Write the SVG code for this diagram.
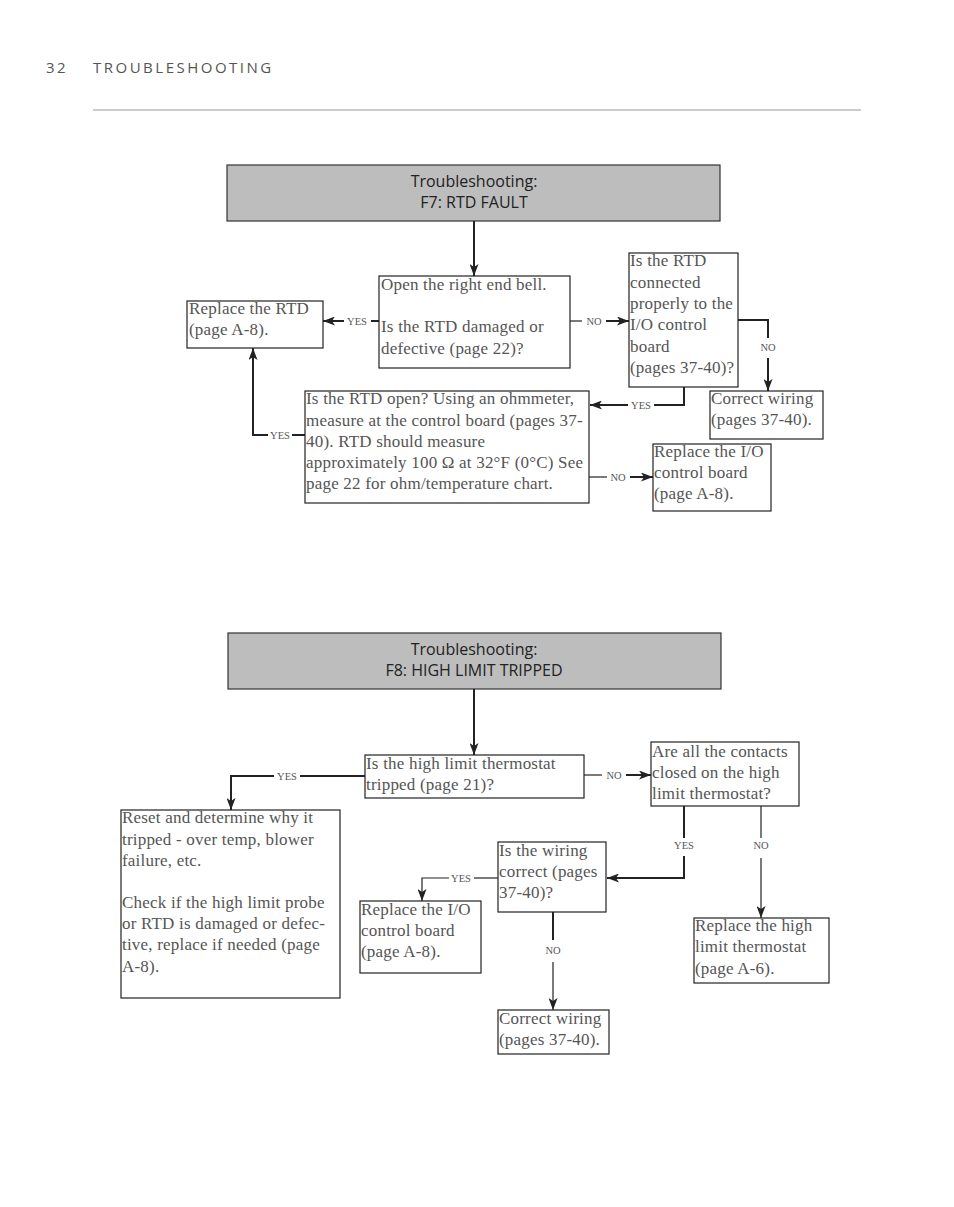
<svg xmlns="http://www.w3.org/2000/svg" width="954" height="1207" viewBox="0 0 954 1207">
<defs>
<style>
.box{fill:#fff;stroke:#222;stroke-width:1.2}
.hdr{fill:#bdbdbd;stroke:#333;stroke-width:1.2}
.t{font-family:"Liberation Serif",serif;font-size:17px;letter-spacing:0.2px;fill:#555}
.h{font-family:"Open Sans","Liberation Sans",sans-serif;font-size:16px;fill:#222;text-anchor:middle}
.lbl{font-family:"Liberation Serif",serif;font-size:10.5px;fill:#555;text-anchor:middle}
.c{fill:none;stroke:#222;stroke-width:2}
.c1{fill:none;stroke:#222;stroke-width:1.2}
</style>
<marker id="ar" markerUnits="userSpaceOnUse" markerWidth="13" markerHeight="9" refX="12" refY="4.5" orient="auto">
<path d="M0,0 L12,4.5 L0,9 L3,4.5 z" fill="#222"/>
</marker>
</defs>
<rect width="954" height="1207" fill="#fff"/>
<g id="page-header">
<text x="46" y="73" font-family="'Open Sans','Liberation Sans',sans-serif" font-size="15" fill="#555" letter-spacing="2.5">32</text>
<text x="93" y="73" font-family="'Open Sans','Liberation Sans',sans-serif" font-size="15" fill="#555" letter-spacing="2.5">TROUBLESHOOTING</text>
<line x1="93" y1="110" x2="861" y2="110" stroke="#999" stroke-width="1"/>
</g>
<g id="f7-header"><rect class="hdr" x="227" y="165" width="493" height="56"/><text class="h" x="474" y="187">Troubleshooting:</text><text class="h" x="474" y="208">F7: RTD FAULT</text></g>
<g id="f7-open"><rect class="box" x="379" y="276" width="191" height="92"/><text class="t" x="381" y="290">Open the right end bell.</text><text class="t" x="381" y="332">Is the RTD damaged or</text><text class="t" x="381" y="354">defective (page 22)?</text></g>
<g id="f7-replace-rtd"><rect class="box" x="187" y="301" width="136" height="47"/><text class="t" x="189" y="314">Replace the RTD</text><text class="t" x="189" y="335">(page A-8).</text></g>
<g id="f7-connected"><rect class="box" x="629" y="253" width="109" height="134"/><text class="t" x="630" y="266">Is the RTD</text><text class="t" x="630" y="288">connected</text><text class="t" x="630" y="309">properly to the</text><text class="t" x="630" y="330">I/O control</text><text class="t" x="630" y="352">board</text><text class="t" x="630" y="373">(pages 37-40)?</text></g>
<g id="f7-correct-wiring"><rect class="box" x="710" y="391" width="113" height="48"/><text class="t" x="711" y="404">Correct wiring</text><text class="t" x="711" y="425">(pages 37-40).</text></g>
<g id="f7-rtd-open"><rect class="box" x="305" y="391" width="284" height="112"/><text class="t" x="306" y="404">Is the RTD open? Using an ohmmeter,</text><text class="t" x="306" y="426">measure at the control board (pages 37-</text><text class="t" x="306" y="447">40). RTD should measure</text><text class="t" x="306" y="468">approximately 100 Ω at 32°F (0°C) See</text><text class="t" x="306" y="489">page 22 for ohm/temperature chart.</text></g>
<g id="f7-replace-io"><rect class="box" x="653" y="444" width="118" height="67"/><text class="t" x="654" y="457">Replace the I/O</text><text class="t" x="654" y="478">control board</text><text class="t" x="654" y="499">(page A-8).</text></g>
<g id="f8-header"><rect class="hdr" x="228" y="633" width="493" height="56"/><text class="h" x="474" y="655">Troubleshooting:</text><text class="h" x="474" y="676">F8: HIGH LIMIT TRIPPED</text></g>
<g id="f8-tripped"><rect class="box" x="365" y="755" width="219" height="43"/><text class="t" x="366" y="769">Is the high limit thermostat</text><text class="t" x="366" y="790">tripped (page 21)?</text></g>
<g id="f8-reset"><rect class="box" x="121" y="810" width="219" height="188"/><text class="t" x="122" y="823">Reset and determine why it</text><text class="t" x="122" y="845">tripped - over temp, blower</text><text class="t" x="122" y="866">failure, etc.</text><text class="t" x="122" y="908">Check if the high limit probe</text><text class="t" x="122" y="929">or RTD is damaged or defec-</text><text class="t" x="122" y="950">tive, replace if needed (page</text><text class="t" x="122" y="972">A-8).</text></g>
<g id="f8-contacts"><rect class="box" x="651" y="742" width="148" height="64"/><text class="t" x="652" y="757">Are all the contacts</text><text class="t" x="652" y="778">closed on the high</text><text class="t" x="652" y="799">limit thermostat?</text></g>
<g id="f8-wiring"><rect class="box" x="498" y="842" width="108" height="70"/><text class="t" x="499" y="856">Is the wiring</text><text class="t" x="499" y="877">correct (pages</text><text class="t" x="499" y="898">37-40)?</text></g>
<g id="f8-replace-io"><rect class="box" x="360" y="901" width="121" height="72"/><text class="t" x="361" y="915">Replace the I/O</text><text class="t" x="361" y="936">control board</text><text class="t" x="361" y="957">(page A-8).</text></g>
<g id="f8-replace-thermostat"><rect class="box" x="694" y="918" width="135" height="65"/><text class="t" x="695" y="931">Replace the high</text><text class="t" x="695" y="952">limit thermostat</text><text class="t" x="695" y="974">(page A-6).</text></g>
<g id="f8-correct-wiring"><rect class="box" x="498" y="1010" width="111" height="44"/><text class="t" x="499" y="1024">Correct wiring</text><text class="t" x="499" y="1045">(pages 37-40).</text></g>
<g id="connectors">
<path class="c" d="M474,221 V276" marker-end="url(#ar)"/>
<path class="c" d="M379,321 H371"/><text class="lbl" x="357" y="325">YES</text><path class="c" d="M344,321 H323" marker-end="url(#ar)"/>
<path class="c1" d="M570,321 H582"/><text class="lbl" x="594" y="325">NO</text><path class="c" d="M606,321 H629" marker-end="url(#ar)"/>
<path class="c" d="M738,320 H768 V338"/><text class="lbl" x="768" y="351">NO</text><path class="c" d="M768,358 V391" marker-end="url(#ar)"/>
<path class="c" d="M684,387 V405 H654"/><text class="lbl" x="641" y="409">YES</text><path class="c" d="M628,405 H590" marker-end="url(#ar)"/>
<path class="c" d="M305,435 H292"/><text class="lbl" x="280" y="439">YES</text><path class="c" d="M268,435 H253 V348" marker-end="url(#ar)"/>
<path class="c1" d="M589,477 H607"/><text class="lbl" x="618" y="481">NO</text><path class="c" d="M630,477 H653" marker-end="url(#ar)"/>
<path class="c" d="M474,689 V755" marker-end="url(#ar)"/>
<path class="c" d="M365,776 H300"/><text class="lbl" x="287" y="780">YES</text><path class="c" d="M274,776 H231 V810" marker-end="url(#ar)"/>
<path class="c1" d="M584,775 H602"/><text class="lbl" x="614" y="779">NO</text><path class="c" d="M626,775 H651" marker-end="url(#ar)"/>
<path class="c" d="M684,806 V838"/><text class="lbl" x="684" y="849">YES</text><path class="c" d="M684,856 V878 H607" marker-end="url(#ar)"/>
<path class="c1" d="M761,806 V838"/><text class="lbl" x="761" y="849">NO</text><path class="c1" d="M761,858 V918" marker-end="url(#ar)"/>
<path class="c1" d="M498,878 H474"/><text class="lbl" x="461" y="882">YES</text><path class="c1" d="M449,878 H422 V901" marker-end="url(#ar)"/>
<path class="c" d="M553,912 V940"/><text class="lbl" x="553" y="954">NO</text><path class="c1" d="M553,962 V1010" marker-end="url(#ar)"/>
</g>
</svg>
